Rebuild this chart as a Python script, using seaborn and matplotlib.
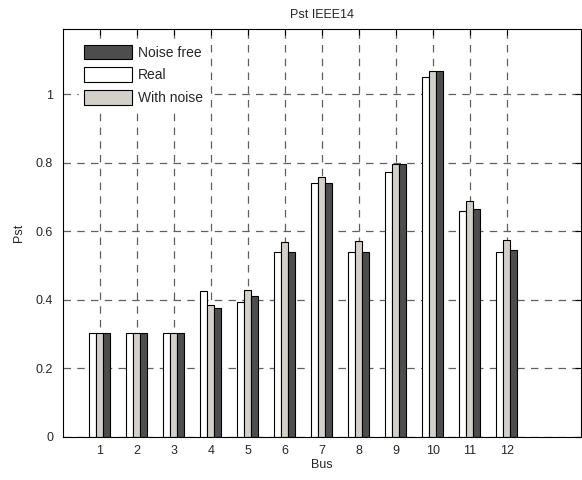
import matplotlib
matplotlib.use("Agg")
import matplotlib.pyplot as plt
import pandas as pd
import seaborn as sns

buses = list(range(1, 13))
real = [0.302, 0.302, 0.302, 0.426, 0.394, 0.540, 0.741, 0.540, 0.772, 1.049, 0.660, 0.541]
with_noise = [0.302, 0.302, 0.302, 0.386, 0.429, 0.569, 0.758, 0.573, 0.797, 1.068, 0.688, 0.576]
noise_free = [0.302, 0.302, 0.302, 0.376, 0.411, 0.540, 0.741, 0.540, 0.797, 1.068, 0.664, 0.545]

series_order = ["Real", "With noise", "Noise free"]
colors = {"Real": "#ffffff", "With noise": "#d4d0c8", "Noise free": "#4d4d4d"}

df = pd.DataFrame({
    "Bus": buses * 3,
    "Pst": real + with_noise + noise_free,
    "series": ["Real"] * 12 + ["With noise"] * 12 + ["Noise free"] * 12,
})

sns.set_style("white")
plt.rcParams["font.family"] = ["Liberation Sans", "DejaVu Sans"]

fig = plt.figure(figsize=(5.82, 4.8), dpi=100)
ax = fig.add_axes([0.108, 0.0896, 0.89, 0.85])

sns.barplot(data=df, x="Bus", y="Pst", hue="series", hue_order=series_order,
            palette=colors, native_scale=True, width=0.57, gap=0,
            edgecolor="black", linewidth=0.8, errorbar=None, ax=ax)

ax.set_xlim(0, 14)
ax.set_ylim(0, 1.19)
ax.set_xticks(buses)
ax.set_yticks([0, 0.2, 0.4, 0.6, 0.8, 1.0])
ax.set_yticklabels(["0", "0.2", "0.4", "0.6", "0.8", "1"])
ax.grid(True, linestyle=(0, (6, 5)), color="#606060", linewidth=0.9)
ax.set_axisbelow(True)
ax.tick_params(direction="in", length=4, top=True, right=True, labelsize=9,
               color="black", width=0.8)
ax.tick_params(axis="x", pad=6)
ax.tick_params(axis="y", pad=7)
for sp in ax.spines.values():
    sp.set_color("black")
    sp.set_linewidth(0.8)

ax.set_title("Pst IEEE14", fontsize=9, pad=8)
ax.set_xlabel("Bus", fontsize=9, labelpad=1)
ax.set_ylabel("Pst", fontsize=9, labelpad=8)

handles, labels = ax.get_legend_handles_labels()
hmap = dict(zip(labels, handles))
legend_order = ["Noise free", "Real", "With noise"]
leg = ax.legend([hmap[k] for k in legend_order], legend_order, loc="upper left",
                bbox_to_anchor=(0.031, 0.975), fontsize=10, frameon=True,
                fancybox=False, framealpha=1, edgecolor="white",
                handlelength=3.45, handleheight=1.25, handletextpad=0.4,
                labelspacing=0.55, borderaxespad=0, borderpad=0.4)

fig.savefig("out.png", dpi=100)
